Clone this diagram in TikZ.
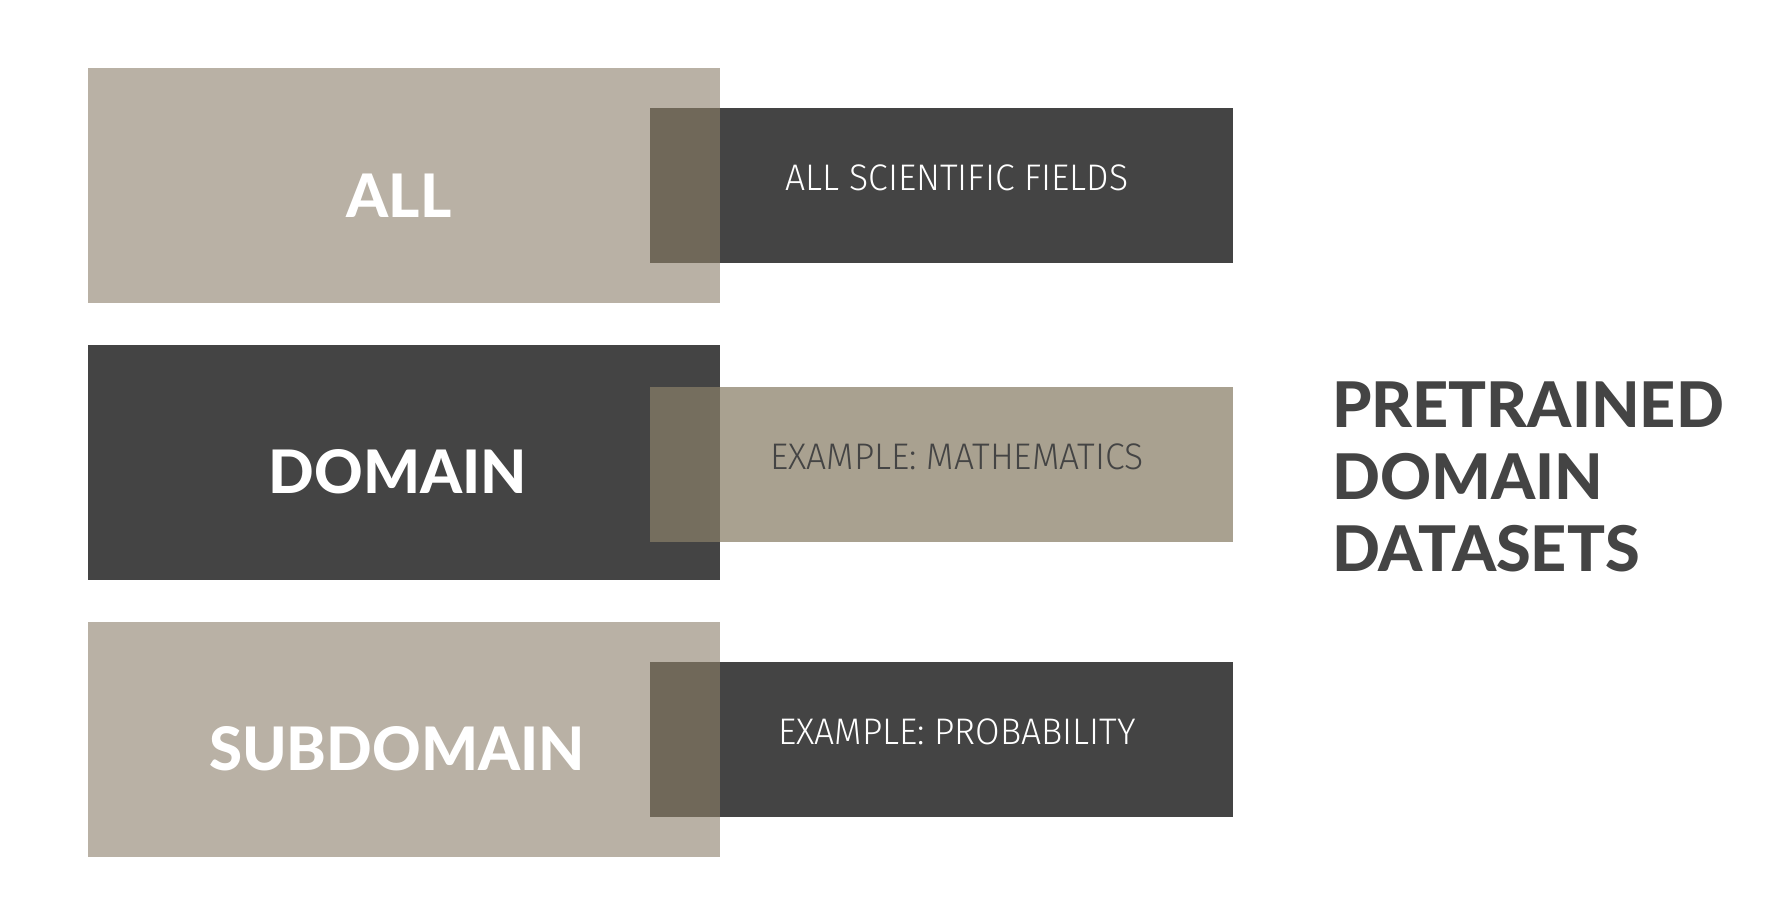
\documentclass[tikz,border=0pt]{standalone}
\usepackage{fontspec}
\setmainfont{Lato}[BoldFont={Lato Heavy}]
\newfontfamily\lightfont[FakeStretch=0.96]{Fira Sans Light}

\definecolor{tanL}{HTML}{B9B1A5}
\definecolor{tanR}{HTML}{A9A190}
\definecolor{dark}{HTML}{444444}
\definecolor{ovlA}{HTML}{706859}
\definecolor{ovlB}{HTML}{756E5E}

\tikzset{
  panel/.style={inner sep=0pt, minimum width=632pt, minimum height=235pt, anchor=north west},
  tag/.style={inner sep=0pt, minimum width=583pt, minimum height=155pt, anchor=north west},
  biglabel/.style={inner sep=0pt, anchor=base, text=white, font=\fontsize{60}{72}\selectfont\bfseries},
  smalllabel/.style={inner sep=0pt, anchor=base, font=\fontsize{37}{42}\selectfont\lightfont},
  title/.style={inner sep=0pt, anchor=base west, align=left, text=dark, font=\fontsize{63}{72}\selectfont\bfseries}
}

\begin{document}
\begin{tikzpicture}[x=1pt,y=-1pt]
\useasboundingbox (0,0) rectangle (1786,922);
\fill[white] (0,0) rectangle (1786,922);

% level panels on the left
\node[panel, fill=tanL] (l1) at (88,68) {};
\node[panel, fill=dark] (l2) at (88,345) {};
\node[panel, fill=tanL] (l3) at (88,622) {};

% description tags on the right
\node[tag, fill=dark] (r1) at (650,108) {};
\node[tag, fill=tanR] (r2) at (650,387) {};
\node[tag, fill=dark] (r3) at (650,662) {};

% shaded strips where panel and tag overlap
\fill[ovlA] (r1.north west) rectangle (l1.east |- r1.south);
\fill[ovlB] (r2.north west) rectangle (l2.east |- r2.south);
\fill[ovlA] (r3.north west) rectangle (l3.east |- r3.south);

% labels
\node[biglabel] (t1) at (399,217.5) {ALL};
\node[biglabel] (t2) at (398,493) {DOMAIN};
\node[biglabel] (t3) at (397,770) {SUBDOMAIN};

\node[smalllabel, text=white] (d1) at (957,190) {ALL SCIENTIFIC FIELDS};
\node[smalllabel, text=dark] (d2) at (957,469) {EXAMPLE: MATHEMATICS};
\node[smalllabel, text=white] (d3) at (957,744) {EXAMPLE: PROBABILITY};

% heading; the base anchor sits on the last line
\node[title] (head) at (1332,571) {PRETRAINED\\DOMAIN\\DATASETS};
\end{tikzpicture}
\end{document}
